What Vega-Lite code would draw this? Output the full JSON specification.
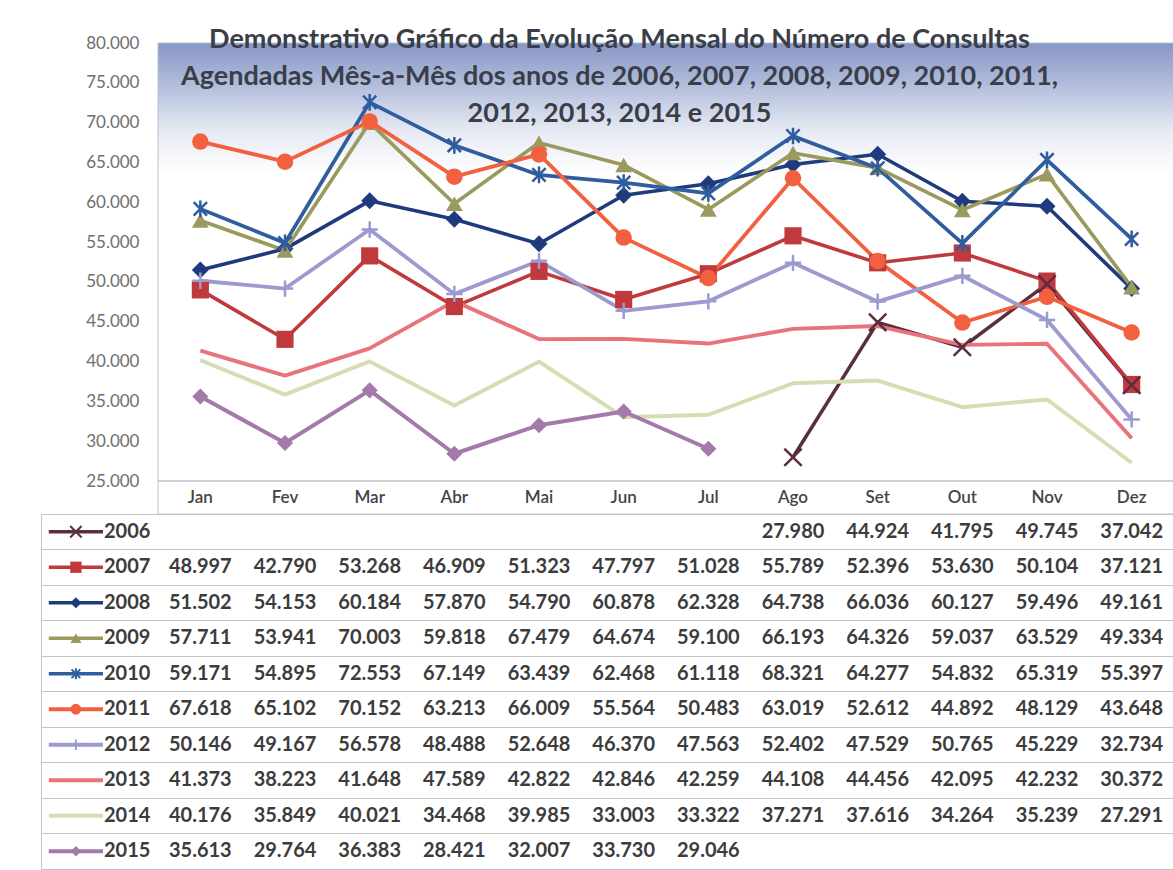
{
  "$schema": "https://vega.github.io/schema/vega-lite/v6.json",
  "padding": {"left": 40, "top": 26, "right": 0, "bottom": 0},
  "background": "white",
  "spacing": 0,
  "bounds": "flush",
  "config": {
    "font": "Lato",
    "view": {"stroke": null},
    "concat": {"spacing": 0},
    "axisY": {"labelOverlap": false},
    "axis": {"labelOverlap": false},
    "locale": {"number": {"decimal": ",", "thousands": ".", "grouping": [3], "currency": ["R$ ", ""]}}
  },
  "resolve": {"scale": {"x": "independent", "y": "independent", "color": "independent", "shape": "independent", "size": "independent", "strokeWidth": "independent"}},
  "datasets": {
    "one": [{"k": 1}],
    "months": [
      {"mes": 1, "nome": "Jan"}, {"mes": 2, "nome": "Fev"}, {"mes": 3, "nome": "Mar"}, {"mes": 4, "nome": "Abr"},
      {"mes": 5, "nome": "Mai"}, {"mes": 6, "nome": "Jun"}, {"mes": 7, "nome": "Jul"}, {"mes": 8, "nome": "Ago"},
      {"mes": 9, "nome": "Set"}, {"mes": 10, "nome": "Out"}, {"mes": 11, "nome": "Nov"}, {"mes": 12, "nome": "Dez"}
    ],
    "years": [
      {"year": "2006"}, {"year": "2007"}, {"year": "2008"}, {"year": "2009"}, {"year": "2010"},
      {"year": "2011"}, {"year": "2012"}, {"year": "2013"}, {"year": "2014"}, {"year": "2015"}
    ],
    "vals": [
      {"year": "2006", "mes": 8, "v": 27980}, {"year": "2006", "mes": 9, "v": 44924}, {"year": "2006", "mes": 10, "v": 41795}, {"year": "2006", "mes": 11, "v": 49745}, {"year": "2006", "mes": 12, "v": 37042},
      {"year": "2007", "mes": 1, "v": 48997}, {"year": "2007", "mes": 2, "v": 42790}, {"year": "2007", "mes": 3, "v": 53268}, {"year": "2007", "mes": 4, "v": 46909}, {"year": "2007", "mes": 5, "v": 51323}, {"year": "2007", "mes": 6, "v": 47797}, {"year": "2007", "mes": 7, "v": 51028}, {"year": "2007", "mes": 8, "v": 55789}, {"year": "2007", "mes": 9, "v": 52396}, {"year": "2007", "mes": 10, "v": 53630}, {"year": "2007", "mes": 11, "v": 50104}, {"year": "2007", "mes": 12, "v": 37121},
      {"year": "2008", "mes": 1, "v": 51502}, {"year": "2008", "mes": 2, "v": 54153}, {"year": "2008", "mes": 3, "v": 60184}, {"year": "2008", "mes": 4, "v": 57870}, {"year": "2008", "mes": 5, "v": 54790}, {"year": "2008", "mes": 6, "v": 60878}, {"year": "2008", "mes": 7, "v": 62328}, {"year": "2008", "mes": 8, "v": 64738}, {"year": "2008", "mes": 9, "v": 66036}, {"year": "2008", "mes": 10, "v": 60127}, {"year": "2008", "mes": 11, "v": 59496}, {"year": "2008", "mes": 12, "v": 49161},
      {"year": "2009", "mes": 1, "v": 57711}, {"year": "2009", "mes": 2, "v": 53941}, {"year": "2009", "mes": 3, "v": 70003}, {"year": "2009", "mes": 4, "v": 59818}, {"year": "2009", "mes": 5, "v": 67479}, {"year": "2009", "mes": 6, "v": 64674}, {"year": "2009", "mes": 7, "v": 59100}, {"year": "2009", "mes": 8, "v": 66193}, {"year": "2009", "mes": 9, "v": 64326}, {"year": "2009", "mes": 10, "v": 59037}, {"year": "2009", "mes": 11, "v": 63529}, {"year": "2009", "mes": 12, "v": 49334},
      {"year": "2010", "mes": 1, "v": 59171}, {"year": "2010", "mes": 2, "v": 54895}, {"year": "2010", "mes": 3, "v": 72553}, {"year": "2010", "mes": 4, "v": 67149}, {"year": "2010", "mes": 5, "v": 63439}, {"year": "2010", "mes": 6, "v": 62468}, {"year": "2010", "mes": 7, "v": 61118}, {"year": "2010", "mes": 8, "v": 68321}, {"year": "2010", "mes": 9, "v": 64277}, {"year": "2010", "mes": 10, "v": 54832}, {"year": "2010", "mes": 11, "v": 65319}, {"year": "2010", "mes": 12, "v": 55397},
      {"year": "2011", "mes": 1, "v": 67618}, {"year": "2011", "mes": 2, "v": 65102}, {"year": "2011", "mes": 3, "v": 70152}, {"year": "2011", "mes": 4, "v": 63213}, {"year": "2011", "mes": 5, "v": 66009}, {"year": "2011", "mes": 6, "v": 55564}, {"year": "2011", "mes": 7, "v": 50483}, {"year": "2011", "mes": 8, "v": 63019}, {"year": "2011", "mes": 9, "v": 52612}, {"year": "2011", "mes": 10, "v": 44892}, {"year": "2011", "mes": 11, "v": 48129}, {"year": "2011", "mes": 12, "v": 43648},
      {"year": "2012", "mes": 1, "v": 50146}, {"year": "2012", "mes": 2, "v": 49167}, {"year": "2012", "mes": 3, "v": 56578}, {"year": "2012", "mes": 4, "v": 48488}, {"year": "2012", "mes": 5, "v": 52648}, {"year": "2012", "mes": 6, "v": 46370}, {"year": "2012", "mes": 7, "v": 47563}, {"year": "2012", "mes": 8, "v": 52402}, {"year": "2012", "mes": 9, "v": 47529}, {"year": "2012", "mes": 10, "v": 50765}, {"year": "2012", "mes": 11, "v": 45229}, {"year": "2012", "mes": 12, "v": 32734},
      {"year": "2013", "mes": 1, "v": 41373}, {"year": "2013", "mes": 2, "v": 38223}, {"year": "2013", "mes": 3, "v": 41648}, {"year": "2013", "mes": 4, "v": 47589}, {"year": "2013", "mes": 5, "v": 42822}, {"year": "2013", "mes": 6, "v": 42846}, {"year": "2013", "mes": 7, "v": 42259}, {"year": "2013", "mes": 8, "v": 44108}, {"year": "2013", "mes": 9, "v": 44456}, {"year": "2013", "mes": 10, "v": 42095}, {"year": "2013", "mes": 11, "v": 42232}, {"year": "2013", "mes": 12, "v": 30372},
      {"year": "2014", "mes": 1, "v": 40176}, {"year": "2014", "mes": 2, "v": 35849}, {"year": "2014", "mes": 3, "v": 40021}, {"year": "2014", "mes": 4, "v": 34468}, {"year": "2014", "mes": 5, "v": 39985}, {"year": "2014", "mes": 6, "v": 33003}, {"year": "2014", "mes": 7, "v": 33322}, {"year": "2014", "mes": 8, "v": 37271}, {"year": "2014", "mes": 9, "v": 37616}, {"year": "2014", "mes": 10, "v": 34264}, {"year": "2014", "mes": 11, "v": 35239}, {"year": "2014", "mes": 12, "v": 27291},
      {"year": "2015", "mes": 1, "v": 35613}, {"year": "2015", "mes": 2, "v": 29764}, {"year": "2015", "mes": 3, "v": 36383}, {"year": "2015", "mes": 4, "v": 28421}, {"year": "2015", "mes": 5, "v": 32007}, {"year": "2015", "mes": 6, "v": 33730}, {"year": "2015", "mes": 7, "v": 29046}
    ]
  },
  "vconcat": [
    {
      "width": 1133,
      "height": 438,
      "title": {
        "text": ["Demonstrativo Gráfico da Evolução Mensal do Número de Consultas", "Agendadas Mês-a-Mês dos anos de 2006, 2007, 2008, 2009, 2010, 2011,", "2012, 2013, 2014 e 2015"],
        "font": "Lato", "fontSize": 27, "fontWeight": "bold", "color": "#3a3e48",
        "lineHeight": 37, "offset": -94, "anchor": "middle", "dx": 12
      },
      "layer": [
        {
          "data": {"name": "one"},
          "mark": {"type": "rect", "stroke": "#b8c0d0", "strokeWidth": 1, "fill": {"gradient": "linear", "x1": 0, "y1": 0, "x2": 0, "y2": 1, "stops": [{"offset": 0, "color": "#8797c6"}, {"offset": 0.1, "color": "#b4bfdc"}, {"offset": 0.2, "color": "#e6eaf3"}, {"offset": 0.3, "color": "#ffffff"}, {"offset": 1, "color": "#ffffff"}]}},
          "encoding": {
            "x": {"datum": 0.5, "type": "quantitative", "scale": {"domain": [-0.882, 12.5], "nice": false, "zero": false}, "axis": null},
            "x2": {"datum": 12.5},
            "y": {"datum": 80000, "type": "quantitative", "scale": {"domain": [25000, 80000], "nice": false, "zero": false},
              "axis": {"orient": "left", "values": [25000, 30000, 35000, 40000, 45000, 50000, 55000, 60000, 65000, 70000, 75000, 80000], "tickCount": 30, "format": ",d", "labelFont": "Lato", "labelFontSize": 17, "labelColor": "#6e6e6e", "labelAlign": "right", "labelBaseline": "middle", "labelPadding": -98, "labelOverlap": false, "labelSeparation": 0, "labelFlush": false, "labelBound": false, "ticks": false, "tickSize": 0, "domain": false, "grid": false, "title": null, "minExtent": 0, "maxExtent": 0}},
            "y2": {"datum": 25000}
          }
        },
        {
          "data": {"name": "vals"},
          "mark": {"type": "line", "strokeJoin": "round"},
          "encoding": {
            "x": {"field": "mes", "type": "quantitative", "scale": {"domain": [-0.882, 12.5], "nice": false, "zero": false}, "axis": null},
            "y": {"field": "v", "type": "quantitative", "scale": {"domain": [25000, 80000], "nice": false, "zero": false}},
            "color": {"field": "year", "type": "nominal", "scale": {"domain": ["2006", "2007", "2008", "2009", "2010", "2011", "2012", "2013", "2014", "2015"], "range": ["#5a2d41", "#c0393c", "#1f3b7d", "#9b9a5e", "#2f5d9e", "#f2603f", "#9c9bd0", "#e8737a", "#d7ddb3", "#a47aaa"]}, "legend": null},
            "strokeWidth": {"field": "year", "type": "nominal", "scale": {"domain": ["2006", "2007", "2008", "2009", "2010", "2011", "2012", "2013", "2014", "2015"], "range": [3.5, 4, 3, 4, 4, 4, 3.5, 3.5, 3.5, 4]}, "legend": null}
          }
        },
        {
          "data": {"name": "vals"},
          "transform": [{"filter": {"field": "year", "oneOf": ["2007", "2008", "2009", "2011", "2015"]}}],
          "mark": {"type": "point", "filled": true, "opacity": 1},
          "encoding": {
            "x": {"field": "mes", "type": "quantitative", "scale": {"domain": [-0.882, 12.5], "nice": false, "zero": false}, "axis": null},
            "y": {"field": "v", "type": "quantitative", "scale": {"domain": [25000, 80000], "nice": false, "zero": false}},
            "color": {"field": "year", "type": "nominal", "scale": {"domain": ["2006", "2007", "2008", "2009", "2010", "2011", "2012", "2013", "2014", "2015"], "range": ["#5a2d41", "#c0393c", "#1f3b7d", "#9b9a5e", "#2f5d9e", "#f2603f", "#9c9bd0", "#e8737a", "#d7ddb3", "#a47aaa"]}, "legend": null},
            "shape": {"field": "year", "type": "nominal", "scale": {"domain": ["2006", "2007", "2008", "2009", "2010", "2011", "2012", "2015"], "range": ["M-1,-1L1,1M-1,1L1,-1", "square", "diamond", "triangle-up", "M0,-1L0,1M-0.8,-0.8L0.8,0.8M-0.8,0.8L0.8,-0.8", "circle", "M-1,0L1,0M0,-1L0,1", "diamond"]}, "legend": null},
            "size": {"field": "year", "type": "nominal", "scale": {"domain": ["2006", "2007", "2008", "2009", "2010", "2011", "2012", "2015"], "range": [300, 260, 90, 220, 330, 300, 300, 220]}, "legend": null}
          }
        },
        {
          "data": {"name": "vals"},
          "transform": [{"filter": {"field": "year", "oneOf": ["2006", "2010", "2012"]}}],
          "mark": {"type": "point", "filled": false, "strokeWidth": 2.5, "opacity": 1},
          "encoding": {
            "x": {"field": "mes", "type": "quantitative", "scale": {"domain": [-0.882, 12.5], "nice": false, "zero": false}, "axis": null},
            "y": {"field": "v", "type": "quantitative", "scale": {"domain": [25000, 80000], "nice": false, "zero": false}},
            "color": {"field": "year", "type": "nominal", "scale": {"domain": ["2006", "2007", "2008", "2009", "2010", "2011", "2012", "2013", "2014", "2015"], "range": ["#5a2d41", "#c0393c", "#1f3b7d", "#9b9a5e", "#2f5d9e", "#f2603f", "#9c9bd0", "#e8737a", "#d7ddb3", "#a47aaa"]}, "legend": null},
            "shape": {"field": "year", "type": "nominal", "scale": {"domain": ["2006", "2007", "2008", "2009", "2010", "2011", "2012", "2015"], "range": ["M-1,-1L1,1M-1,1L1,-1", "square", "diamond", "triangle-up", "M0,-1L0,1M-0.8,-0.8L0.8,0.8M-0.8,0.8L0.8,-0.8", "circle", "M-1,0L1,0M0,-1L0,1", "diamond"]}, "legend": null},
            "size": {"field": "year", "type": "nominal", "scale": {"domain": ["2006", "2007", "2008", "2009", "2010", "2011", "2012", "2015"], "range": [300, 260, 90, 220, 330, 300, 300, 220]}, "legend": null}
          }
        }
      ]
    },
    {
      "width": 1133,
      "height": 33,
      "layer": [
        {
          "data": {"name": "one"},
          "mark": {"type": "rect", "fillOpacity": 0, "stroke": "#c4c4c4", "strokeWidth": 1},
          "encoding": {
            "x": {"datum": 0.5, "type": "quantitative", "scale": {"domain": [-0.882, 12.5], "nice": false, "zero": false},
              "axis": {"orient": "top", "values": [1.5, 2.5, 3.5, 4.5, 5.5, 6.5, 7.5, 8.5, 9.5, 10.5, 11.5], "tickCount": 30, "grid": true, "gridColor": "#c4c4c4", "labels": false, "ticks": false, "domain": false, "title": null}},
            "x2": {"datum": 12.5},
            "y": {"datum": 0, "type": "quantitative", "scale": {"domain": [0, 1], "nice": false, "zero": false}, "axis": null},
            "y2": {"datum": 1}
          }
        },
        {
          "data": {"name": "months"},
          "mark": {"type": "text", "font": "Lato", "fontSize": 17, "fontWeight": 600, "color": "#444444", "baseline": "middle"},
          "encoding": {
            "x": {"field": "mes", "type": "quantitative", "scale": {"domain": [-0.882, 12.5], "nice": false, "zero": false}, "axis": null},
            "y": {"datum": 0.5, "type": "quantitative", "scale": {"domain": [0, 1], "nice": false, "zero": false}, "axis": null},
            "text": {"field": "nome", "type": "nominal"}
          }
        }
      ]
    },
    {
      "width": 1133,
      "height": 355,
      "view": {"stroke": "#c4c4c4"},
      "encoding": {
        "y": {"field": "year", "type": "nominal", "scale": {"type": "band", "domain": ["2006", "2007", "2008", "2009", "2010", "2011", "2012", "2013", "2014", "2015"], "paddingInner": 0, "paddingOuter": 0},
          "axis": {"grid": true, "bandPosition": 0, "gridColor": "#c4c4c4", "labels": false, "ticks": false, "domain": false, "title": null}}
      },
      "layer": [
        {
          "data": {"name": "vals"},
          "mark": {"type": "text", "font": "Lato", "fontSize": 20, "fontWeight": "bold", "color": "#3c3c3c", "baseline": "middle"},
          "encoding": {
            "x": {"field": "mes", "type": "quantitative", "scale": {"domain": [-0.882, 12.5], "nice": false, "zero": false},
              "axis": {"orient": "bottom", "values": [0.5, 1.5, 2.5, 3.5, 4.5, 5.5, 6.5, 7.5, 8.5, 9.5, 10.5, 11.5], "tickCount": 30, "grid": true, "gridColor": "#c4c4c4", "labels": false, "ticks": false, "domain": false, "title": null}},
            "text": {"field": "v", "type": "quantitative", "format": ",d"}
          }
        },
        {
          "data": {"name": "years"},
          "mark": {"type": "rule"},
          "encoding": {
            "x": {"datum": -0.79, "type": "quantitative", "scale": {"domain": [-0.882, 12.5], "nice": false, "zero": false}, "axis": null},
            "x2": {"datum": -0.15},
            "color": {"field": "year", "type": "nominal", "scale": {"domain": ["2006", "2007", "2008", "2009", "2010", "2011", "2012", "2013", "2014", "2015"], "range": ["#5a2d41", "#c0393c", "#1f3b7d", "#9b9a5e", "#2f5d9e", "#f2603f", "#9c9bd0", "#e8737a", "#d7ddb3", "#a47aaa"]}, "legend": null},
            "strokeWidth": {"field": "year", "type": "nominal", "scale": {"domain": ["2006", "2007", "2008", "2009", "2010", "2011", "2012", "2013", "2014", "2015"], "range": [3.5, 4, 3, 4, 4, 4, 3.5, 3.5, 3.5, 4]}, "legend": null}
          }
        },
        {
          "data": {"name": "years"},
          "transform": [{"filter": {"field": "year", "oneOf": ["2007", "2008", "2009", "2011", "2015"]}}],
          "mark": {"type": "point", "filled": true, "opacity": 1},
          "encoding": {
            "x": {"datum": -0.47, "type": "quantitative", "scale": {"domain": [-0.882, 12.5], "nice": false, "zero": false}, "axis": null},
            "color": {"field": "year", "type": "nominal", "scale": {"domain": ["2006", "2007", "2008", "2009", "2010", "2011", "2012", "2013", "2014", "2015"], "range": ["#5a2d41", "#c0393c", "#1f3b7d", "#9b9a5e", "#2f5d9e", "#f2603f", "#9c9bd0", "#e8737a", "#d7ddb3", "#a47aaa"]}, "legend": null},
            "shape": {"field": "year", "type": "nominal", "scale": {"domain": ["2006", "2007", "2008", "2009", "2010", "2011", "2012", "2015"], "range": ["M-1,-1L1,1M-1,1L1,-1", "square", "diamond", "triangle-up", "M0,-1L0,1M-0.8,-0.8L0.8,0.8M-0.8,0.8L0.8,-0.8", "circle", "M-1,0L1,0M0,-1L0,1", "diamond"]}, "legend": null},
            "size": {"field": "year", "type": "nominal", "scale": {"domain": ["2006", "2007", "2008", "2009", "2010", "2011", "2012", "2015"], "range": [130, 110, 45, 100, 130, 120, 130, 100]}, "legend": null}
          }
        },
        {
          "data": {"name": "years"},
          "transform": [{"filter": {"field": "year", "oneOf": ["2006", "2010", "2012"]}}],
          "mark": {"type": "point", "filled": false, "strokeWidth": 2, "opacity": 1},
          "encoding": {
            "x": {"datum": -0.47, "type": "quantitative", "scale": {"domain": [-0.882, 12.5], "nice": false, "zero": false}, "axis": null},
            "color": {"field": "year", "type": "nominal", "scale": {"domain": ["2006", "2007", "2008", "2009", "2010", "2011", "2012", "2013", "2014", "2015"], "range": ["#5a2d41", "#c0393c", "#1f3b7d", "#9b9a5e", "#2f5d9e", "#f2603f", "#9c9bd0", "#e8737a", "#d7ddb3", "#a47aaa"]}, "legend": null},
            "shape": {"field": "year", "type": "nominal", "scale": {"domain": ["2006", "2007", "2008", "2009", "2010", "2011", "2012", "2015"], "range": ["M-1,-1L1,1M-1,1L1,-1", "square", "diamond", "triangle-up", "M0,-1L0,1M-0.8,-0.8L0.8,0.8M-0.8,0.8L0.8,-0.8", "circle", "M-1,0L1,0M0,-1L0,1", "diamond"]}, "legend": null},
            "size": {"field": "year", "type": "nominal", "scale": {"domain": ["2006", "2007", "2008", "2009", "2010", "2011", "2012", "2015"], "range": [130, 110, 45, 100, 130, 120, 130, 100]}, "legend": null}
          }
        },
        {
          "data": {"name": "years"},
          "mark": {"type": "text", "align": "right", "baseline": "middle", "font": "Lato", "fontSize": 20, "fontWeight": "bold", "color": "#3c3c3c"},
          "encoding": {
            "x": {"datum": 0.41, "type": "quantitative", "scale": {"domain": [-0.882, 12.5], "nice": false, "zero": false}, "axis": null},
            "text": {"field": "year", "type": "nominal"}
          }
        }
      ]
    }
  ]
}
